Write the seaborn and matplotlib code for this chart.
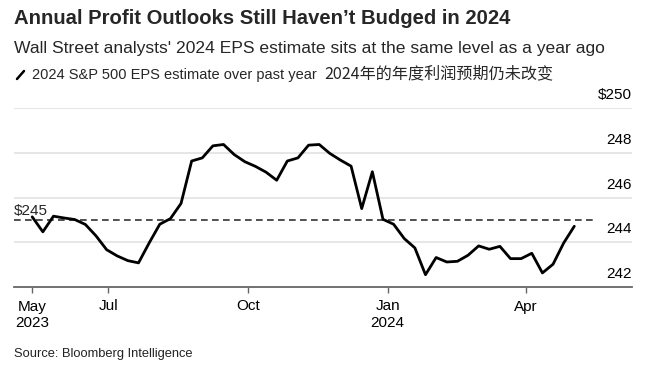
import pandas as pd
import seaborn as sns
import matplotlib.pyplot as plt
import matplotlib.transforms as mtransforms
from matplotlib.lines import Line2D

# weekly 2024 EPS estimates
fechas = pd.date_range("2023-05-12", periods=52, freq="7D")
eps = [245.14, 244.47, 245.17, 245.09, 245.02, 244.80, 244.29, 243.67, 243.39, 243.18,
       243.08, 243.97, 244.81, 245.06, 245.74, 247.64, 247.78, 248.32, 248.38, 247.93,
       247.61, 247.40, 247.14, 246.78, 247.64, 247.78, 248.35, 248.38, 247.98, 247.68,
       247.41, 245.51, 247.16, 245.03, 244.81, 244.17, 243.75, 242.55, 243.32, 243.12,
       243.15, 243.42, 243.84, 243.69, 243.82, 243.27, 243.27, 243.51, 242.63, 243.02,
       243.97, 244.72]

ref_valor = 245
ref_label = "$245"
y_ticks = [242, 244, 246, 248, 250]
y_labels = ["242", "244", "246", "248", "$250"]
x_ticks = pd.to_datetime(["2023-05-12", "2023-07-01", "2023-10-01", "2024-01-01", "2024-04-01"])
x_labels = ["May\n2023", "Jul", "Oct", "Jan\n2024", "Apr"]
x_lim = pd.to_datetime(["2023-04-30", "2024-06-10"])
ref_fin = pd.Timestamp("2024-05-15")

df = pd.DataFrame({"fecha": fechas, "eps": eps})

sns.set_theme(style="white")
plt.rcParams["font.family"] = ["Liberation Sans", "DejaVu Sans"]

fig = plt.figure(figsize=(6.54, 3.76), dpi=100)
ax = fig.add_axes([14 / 654, 1 - 287 / 376, 618 / 654, (287 - 108.3) / 376])

# gridlines
for v in y_ticks[1:]:
    ax.axhline(v, color="#e2e2e2", lw=1.2, zorder=0)

# reference dashed line
ax.hlines(ref_valor, x_lim[0], ref_fin, colors="#333333", lw=1.2,
          linestyles=(0, (4, 2.6)), zorder=1)

sns.lineplot(data=df, x="fecha", y="eps", ax=ax, color="black", lw=2.0, zorder=3)

ax.set_xlim(x_lim[0], x_lim[1])
ax.set_ylim(y_ticks[0], y_ticks[-1])
ax.set_xlabel("")
ax.set_ylabel("")
for s in ["top", "right", "left"]:
    ax.spines[s].set_visible(False)
ax.spines["bottom"].set_color("#666666")
ax.spines["bottom"].set_linewidth(1.3)

ax.set_xticks(x_ticks)
ax.set_xticklabels(x_labels, fontsize=11, linespacing=1.2)
ax.tick_params(axis="x", bottom=True, length=4, width=1, color="#666666", pad=5, labelcolor="black")
ax.set_yticks([])

# y labels inside, on the right, sitting above gridlines
off = mtransforms.offset_copy(ax.transData, fig=fig, x=0, y=6, units="dots")
blend = mtransforms.blended_transform_factory(ax.transAxes, off)
for v, lab in zip(y_ticks, y_labels):
    ax.text(1.0, v, lab, transform=blend, ha="right", va="bottom", fontsize=11, color="black")

blend_l = mtransforms.blended_transform_factory(
    ax.transAxes, mtransforms.offset_copy(ax.transData, fig=fig, x=0, y=2, units="dots"))
ax.text(0.0, ref_valor, ref_label, transform=blend_l, ha="left", va="bottom", fontsize=11)

# titles
fig.text(14 / 654, 1 - 18 / 376, "Annual Profit Outlooks Still Haven\u2019t Budged in 2024",
         fontsize=14.6, fontweight="bold", va="center", ha="left")
fig.text(14 / 654, 1 - 48 / 376,
         "Wall Street analysts' 2024 EPS estimate sits at the same level as a year ago",
         fontsize=12.6, va="center", ha="left")

# legend
fig.add_artist(Line2D([17 / 654, 24 / 654], [1 - 79 / 376, 1 - 71 / 376],
                      color="black", lw=1.8, transform=fig.transFigure))
fig.text(32 / 654, 1 - 75 / 376, "2024 S&P 500 EPS estimate over past year",
         fontsize=10.5, va="center", ha="left")
fig.text(324 / 654, 1 - 74 / 376, "2024年的年度利润预期仍未改变",
         fontsize=11.6, va="center", ha="left", family=["Noto Sans CJK SC", "DejaVu Sans"])

fig.text(14 / 654, 1 - 354 / 376, "Source: Bloomberg Intelligence",
         fontsize=9.3, va="center", ha="left", color="#222222")

fig.savefig("out.png", dpi=100)
